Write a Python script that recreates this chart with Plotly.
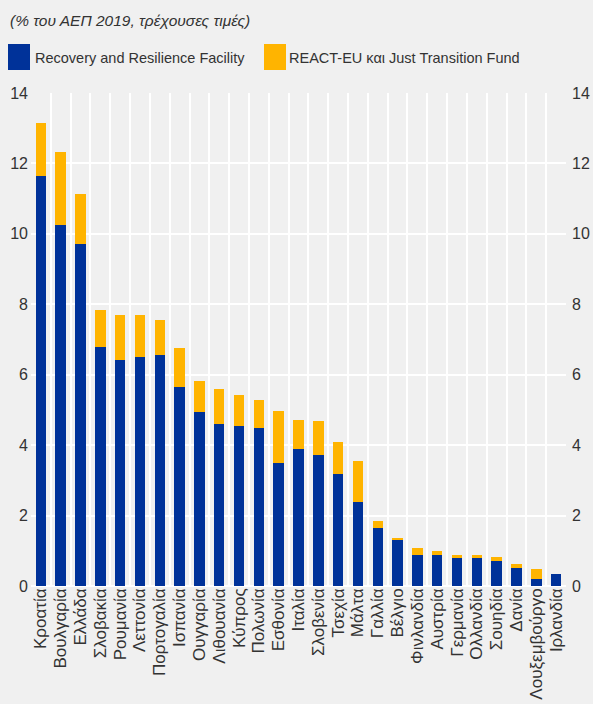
import plotly.graph_objects as go

countries = ["Κροατία", "Βουλγαρία", "Ελλάδα", "Σλοβακία", "Ρουμανία", "Λεττονία",
             "Πορτογαλία", "Ισπανία", "Ουγγαρία", "Λιθουανία", "Κύπρος", "Πολωνία",
             "Εσθονία", "Ιταλία", "Σλοβενία", "Τσεχία", "Μάλτα", "Γαλλία", "Βέλγιο",
             "Φινλανδία", "Αυστρία", "Γερμανία", "Ολλανδία", "Σουηδία", "Δανία",
             "Λουξεμβούργο", "Ιρλανδία"]
rrf = [11.65, 10.26, 9.72, 6.79, 6.42, 6.49, 6.56, 5.65, 4.94, 4.60, 4.55, 4.49,
       3.49, 3.89, 3.72, 3.18, 2.39, 1.65, 1.31, 0.88, 0.88, 0.80, 0.80, 0.71,
       0.51, 0.20, 0.34]
react_jtf = [1.49, 2.07, 1.42, 1.05, 1.28, 1.21, 1.00, 1.11, 0.88, 1.00, 0.88, 0.79,
             1.48, 0.83, 0.97, 0.91, 1.16, 0.20, 0.03, 0.20, 0.11, 0.08, 0.08, 0.11,
             0.11, 0.28, 0.0]
y_ticks = [0, 2, 4, 6, 8, 10, 12, 14]

name_rrf = "Recovery and Resilience Facility"
name_react = "REACT-EU και Just Transition Fund"
title_text = "(% του ΑΕΠ 2019, τρέχουσες τιμές)"

BLUE = "#003299"
ORANGE = "#FFB400"
BG = "#F0F0F0"
TXT = "#333333"
FONT = "Liberation Sans"

fig = go.Figure()
fig.add_trace(go.Bar(x=countries, y=rrf, name=name_rrf, marker_color=BLUE,
                     marker_line_width=0, showlegend=False))
fig.add_trace(go.Bar(x=countries, y=react_jtf, name=name_react, marker_color=ORANGE,
                     marker_line_width=0, showlegend=False))
# invisible trace to activate right-hand axis
fig.add_trace(go.Scatter(x=countries, y=rrf, yaxis="y2", mode="markers",
                         marker=dict(opacity=0), showlegend=False, hoverinfo="skip"))

W, H = 593, 704
L, R, T, B = 31, 27, 93, 118
pw, ph = W - L - R, H - T - B

def px(x):
    return (x - L) / pw

def py(y):
    return (H - B - y) / ph

fig.update_layout(
    width=W, height=H,
    margin=dict(l=L, r=R, t=T, b=B, autoexpand=False),
    paper_bgcolor=BG, plot_bgcolor=BG,
    barmode="stack", bargap=0.47,
    font=dict(family=FONT, color=TXT, size=16),
    xaxis=dict(type="category", tickson="boundaries", showgrid=True,
               tickmode="linear", tick0=0, dtick=1,
               gridcolor="white", gridwidth=1.5, tickangle=-90,
               ticks="", showline=False, tickfont=dict(size=17), automargin=False,
               ticklabelstandoff=-2,
               range=[-0.5, len(countries) - 0.5]),
    yaxis=dict(range=[0, 14], tickvals=y_ticks, showgrid=True, gridcolor="white",
               gridwidth=2, zeroline=True, zerolinecolor="white", zerolinewidth=2,
               ticks="", tickfont=dict(size=16), automargin=False,
               ticklabelstandoff=2),
    yaxis2=dict(range=[0, 14], tickvals=y_ticks, overlaying="y", side="right",
                showgrid=False, zeroline=False, ticks="", tickfont=dict(size=16),
                automargin=False, ticklabelstandoff=5),
    shapes=[
        dict(type="rect", xref="paper", yref="paper", x0=px(8), x1=px(30),
             y0=py(70), y1=py(44), fillcolor=BLUE, line_width=0),
        dict(type="rect", xref="paper", yref="paper", x0=px(264), x1=px(286),
             y0=py(70), y1=py(44), fillcolor=ORANGE, line_width=0),
    ],
    annotations=[
        dict(text="<i>" + title_text + "</i>", xref="paper", yref="paper",
             x=px(8), y=py(21), xanchor="left", yanchor="middle", showarrow=False,
             font=dict(size=15.5, color=TXT)),
        dict(text=name_rrf, xref="paper", yref="paper", x=px(33), y=py(58),
             xanchor="left", yanchor="middle", showarrow=False,
             font=dict(size=14.5, color=TXT)),
        dict(text=name_react, xref="paper", yref="paper", x=px(287), y=py(58),
             xanchor="left", yanchor="middle", showarrow=False,
             font=dict(size=14.5, color=TXT)),
    ],
)

fig.write_html(
    "out.html",
    config={"displayModeBar": False},
    post_script="document.body.style.margin='0';document.body.style.background='#F0F0F0';",
)
